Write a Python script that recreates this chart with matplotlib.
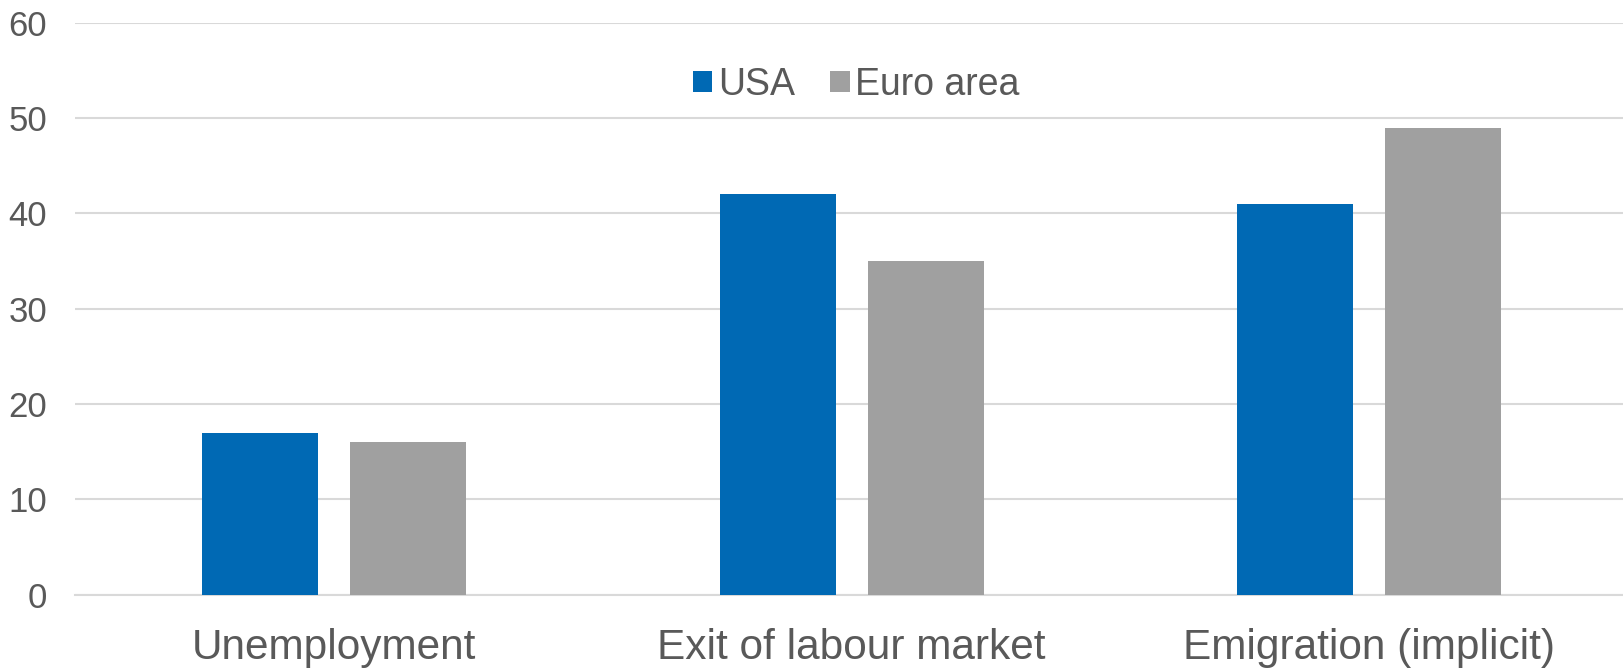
import matplotlib
matplotlib.use("Agg")
import matplotlib.pyplot as plt
import numpy as np

plt.rcParams['font.family'] = ['Liberation Sans', 'DejaVu Sans']

categories = ["Unemployment", "Exit of labour market", "Emigration (implicit)"]
usa = [17, 42, 41]
euro = [16, 35, 49]
yticks = [0, 10, 20, 30, 40, 50, 60]

fig = plt.figure(figsize=(16.23, 6.69), dpi=100)
ax = fig.add_axes([0.0462, 0.111, 0.957, 0.855])

x = np.arange(len(categories))
w = 0.224
off = 0.143
ax.bar(x - off, usa, w, color='#0069b4', label='USA', zorder=3)
ax.bar(x + off, euro, w, color='#a0a0a0', label='Euro area', zorder=3)

ax.set_xlim(-0.5, 2.5)
ax.set_ylim(0, 60)
ax.set_yticks(yticks)
ax.set_xticks(x)
ax.set_xticklabels(categories)
ax.grid(axis='y', color='#d9d9d9', linewidth=1.5, zorder=0)
ax.set_axisbelow(True)
for s in ['top', 'right', 'left']:
    ax.spines[s].set_visible(False)
ax.spines['bottom'].set_color('#d9d9d9')
ax.spines['bottom'].set_linewidth(1.5)
ax.tick_params(axis='y', length=0, labelsize=25, labelcolor='#595959', pad=20)
ax.tick_params(axis='x', length=0, labelsize=30.5, labelcolor='#595959', pad=24)

leg = ax.legend(loc='upper center', bbox_to_anchor=(0.503, 0.982), ncol=2, frameon=False,
                fontsize=27, handlelength=0.52, handleheight=0.52, handletextpad=0.15,
                columnspacing=0.95)
for t in leg.get_texts():
    t.set_color('#595959')

fig.savefig('out.png', dpi=100)
